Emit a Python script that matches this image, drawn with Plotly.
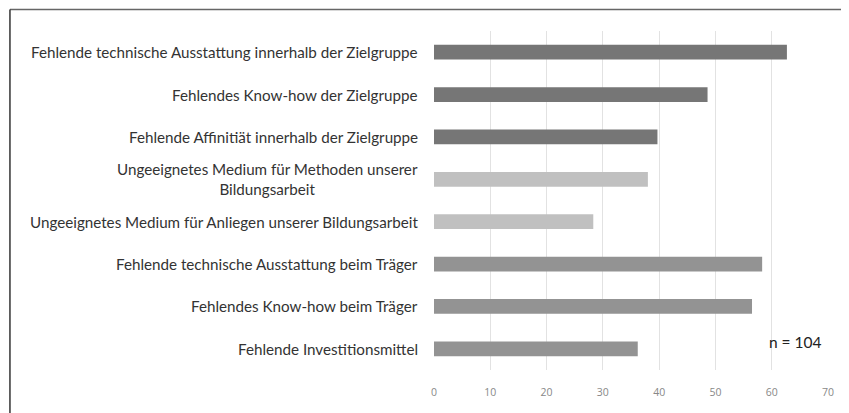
import plotly.graph_objects as go

categories = [
    "Fehlende technische Ausstattung innerhalb der Zielgruppe",
    "Fehlendes Know-how der Zielgruppe",
    "Fehlende Affinitiät innerhalb der Zielgruppe",
    "Ungeeignetes Medium für Methoden unserer<br>Bildungsarbeit",
    "Ungeeignetes Medium für Anliegen unserer Bildungsarbeit",
    "Fehlende technische Ausstattung beim Träger",
    "Fehlendes Know-how beim Träger",
    "Fehlende Investitionsmittel",
]
values = [62.7, 48.6, 39.7, 38.0, 28.3, 58.3, 56.5, 36.2]
colors = ["#767676", "#767676", "#767676", "#c0c0c0", "#c0c0c0", "#939393", "#939393", "#939393"]
x_ticks = [0, 10, 20, 30, 40, 50, 60, 70]
note = "n = 104"

LABEL_FONT = "Lato"

fig = go.Figure(go.Bar(
    y=categories, x=values, orientation="h",
    marker=dict(color=colors, line=dict(width=0)),
    width=0.35,
))

# page body has an 8px offset; figure coordinates are shifted accordingly
OFF = 8
W, H = 849 - OFF, 413 - OFF
ml, mr, mt, mb = 433.7 - OFF, 20.7, 30.5 - OFF, 43
pw, ph = W - ml - mr, H - mt - mb

def px_x(p):
    return (p - OFF - ml) / pw

def px_y(p):
    return (H - mb - (p - OFF)) / ph

annotations = [
    dict(text=c, xref="paper", yref="y", x=0, y=c, xanchor="right", yanchor="middle",
         xshift=-14, align="center", showarrow=False,
         font=dict(size=15.2, color="#333333", family=LABEL_FONT))
    for c in categories
]
annotations.append(
    dict(text=note, xref="x", yref="y", x=69.3, y=categories[7], xanchor="right",
         yanchor="middle", showarrow=False, yshift=7,
         font=dict(size=15.5, color="#222222", family=LABEL_FONT))
)

fig.update_layout(
    width=W, height=H,
    margin=dict(l=ml, r=mr, t=mt, b=mb, autoexpand=False),
    paper_bgcolor="white", plot_bgcolor="white",
    font=dict(family=LABEL_FONT, color="#333333"),
    showlegend=False,
    xaxis=dict(range=[0, 70], tickvals=x_ticks, showgrid=True, gridcolor="#e2e2e2",
               gridwidth=1, zeroline=False, showline=False, ticks="",
               tickfont=dict(size=10.5, color="#888888", family="Open Sans"),
               ticklabelstandoff=14),
    yaxis=dict(autorange="reversed", showgrid=False, zeroline=False, showline=False,
               ticks="", showticklabels=False),
    shapes=[
        dict(type="line", xref="paper", yref="paper", x0=px_x(9), x1=px_x(849),
             y0=px_y(9), y1=px_y(9), line=dict(color="#666666", width=1.5)),
        dict(type="line", xref="paper", yref="paper", x0=px_x(9), x1=px_x(9),
             y0=px_y(9), y1=px_y(413), line=dict(color="#333333", width=1.5)),
    ],
    annotations=annotations,
)

fig.write_html("out.html")
